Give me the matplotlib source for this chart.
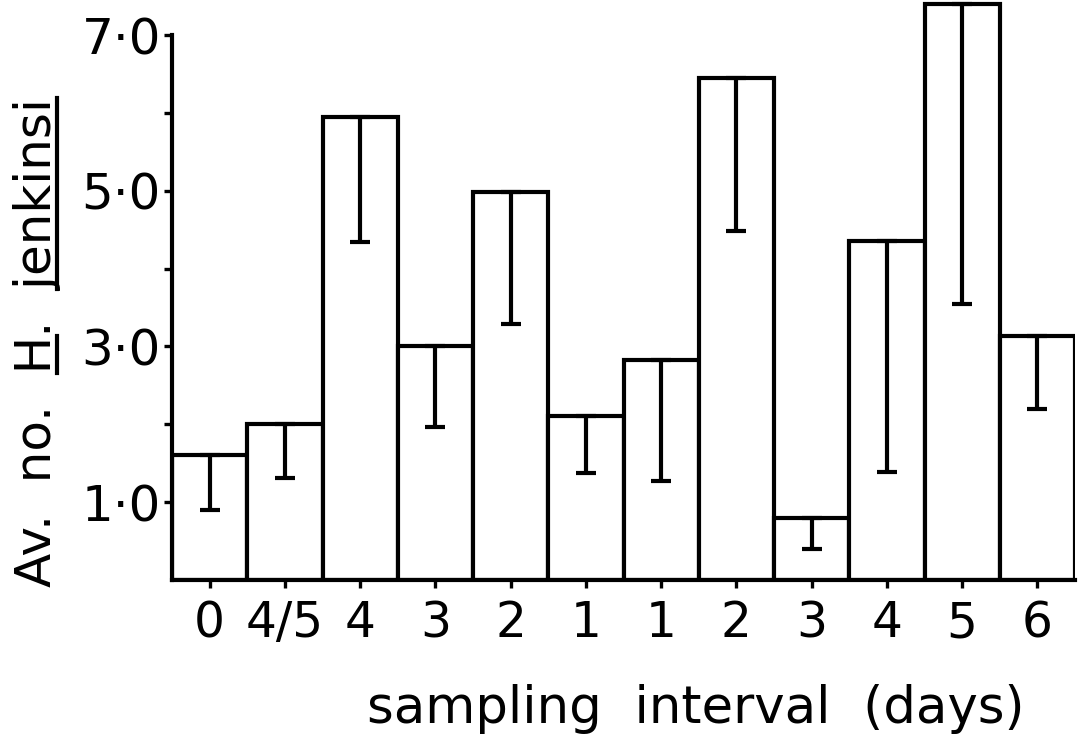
import numpy as np
import matplotlib.pyplot as plt
from matplotlib.lines import Line2D

plt.rcParams['font.family'] = ['DejaVu Sans']

intervals = ['0', '4/5', '4', '3', '2', '1', '1', '2', '3', '4', '5', '6']
means = [1.60, 2.00, 5.95, 3.00, 4.98, 2.11, 2.82, 6.45, 0.80, 4.35, 7.40, 3.13]
lower = [0.90, 1.31, 4.34, 1.96, 3.29, 1.38, 1.27, 4.48, 0.40, 1.39, 3.55, 2.20]

x = np.arange(len(means))
err_down = np.array(means) - np.array(lower)

fig = plt.figure(figsize=(10.84, 7.4), dpi=100)
ax = fig.add_axes([0.1587, 0.2162, 0.833, 0.7838])

lw = 3.0
ax.bar(x, means, width=1.0, color='white', edgecolor='black', linewidth=lw, zorder=2)
ax.errorbar(x, means, yerr=[err_down, np.zeros_like(err_down)], fmt='none',
            ecolor='black', elinewidth=lw, capsize=7, capthick=lw, zorder=3)

ax.set_xlim(-0.5, 11.5)
ax.set_ylim(0, 7.45)
ax.spines['top'].set_visible(False)
ax.spines['right'].set_visible(False)
ax.spines['left'].set_bounds(0, 7.0)
ax.spines['left'].set_linewidth(lw)
ax.spines['bottom'].set_linewidth(lw)

ax.set_yticks([1, 2, 3, 4, 5, 6, 7])
ax.set_yticklabels(['1·0', '', '3·0', '', '5·0', '', '7·0'], fontsize=36)
ax.set_xticks(x)
ax.set_xticklabels(intervals, fontsize=35)
ax.tick_params(axis='both', width=2.4, length=6, direction='out')
ax.tick_params(axis='y', pad=2)
ax.tick_params(axis='x', pad=8)

ax.set_xlabel('sampling  interval  (days)', fontsize=37, labelpad=26, x=0.58)

# y label with underlined genus and species
label = 'Av.  no.  H.  jenkinsi'
ylab = fig.text(0.034, 0.537, label, rotation=90, fontsize=36,
                ha='center', va='center', rotation_mode='anchor')

fig.canvas.draw()
r = fig.canvas.get_renderer()
prop = ylab.get_fontproperties()

def tw(s):
    w, h, d = r.get_text_width_height_descent(s, prop, ismath=False)
    return w, h, d

bb = ylab.get_window_extent(r)
full_w, full_h, full_d = tw(label)
start = bb.y0 + (bb.height - full_w) / 2
baseline_x = bb.x1 - full_d + 6
for pre, word in [('Av.  no.  ', 'H'), ('Av.  no.  H.  ', 'jenkinsi')]:
    a = start + tw(pre)[0]
    b = a + tw(word)[0]
    fig.add_artist(Line2D([baseline_x / fig.bbox.width] * 2,
                          [a / fig.bbox.height, b / fig.bbox.height],
                          color='black', linewidth=lw))

fig.savefig('out.png', dpi=100)
